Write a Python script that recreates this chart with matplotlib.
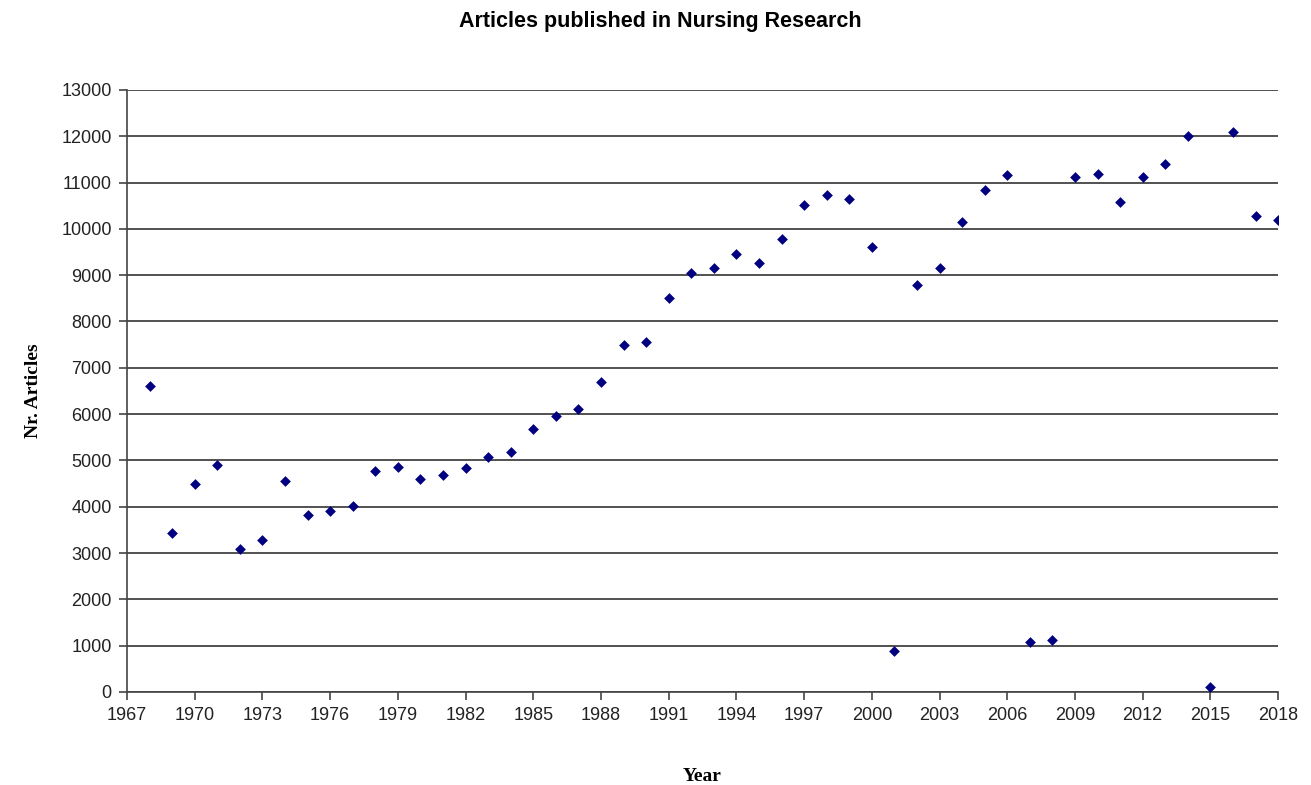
import matplotlib
matplotlib.use("Agg")
import matplotlib.pyplot as plt
import numpy as np

years = list(range(1968, 2019))
articles = [6600, 3430, 4490, 4900, 3090, 3280, 4550, 3820, 3910, 4020,
            4770, 4860, 4600, 4690, 4840, 5080, 5180, 5680, 5960, 6110,
            6700, 7490, 7560, 8510, 9050, 9160, 9460, 9270, 9780, 10520,
            10730, 10650, 9610, 890, 8790, 9160, 10150, 10840, 11170, 1080,
            1120, 11120, 11190, 10580, 11120, 11400, 12010, 110, 12100, 10280,
            10190]

fig = plt.figure(figsize=(13.11, 7.85), dpi=100)
ax = fig.add_axes([0.0969, 0.1185, 0.878, 0.767])

ax.scatter(years, articles, marker='D', s=30, color='#000080', zorder=3, linewidths=0)

ax.set_xlim(1967, 2018)
ax.set_ylim(0, 13000)
ax.set_xticks(range(1967, 2019, 3))
ax.set_yticks(range(0, 13001, 1000))
ax.yaxis.grid(True, color='#333333', linewidth=1.2)
ax.set_axisbelow(True)
for s in ['top', 'right']:
    ax.spines[s].set_visible(False)
for s in ['left', 'bottom']:
    ax.spines[s].set_color('#444444')
    ax.spines[s].set_linewidth(1.2)
ax.tick_params(direction='out', length=6, color='#444444', width=1.2, pad=5)
for lab in ax.get_xticklabels() + ax.get_yticklabels():
    lab.set_family('Liberation Sans')
    lab.set_fontsize(13)
    lab.set_color('#222222')

ax.set_xlabel('Year', family='Liberation Serif', fontweight='bold', fontsize=14)
ax.set_ylabel('Nr. Articles', family='Liberation Serif', fontweight='bold', fontsize=14)
ax.xaxis.set_label_coords(0.5, -0.126)
ax.yaxis.set_label_coords(-0.0735, 0.5)
fig.text(0.504, 0.972, 'Articles published in Nursing Research', family='Liberation Sans',
         fontweight='bold', fontsize=15.5, ha='center', va='center')

fig.savefig('out.png', dpi=100)
